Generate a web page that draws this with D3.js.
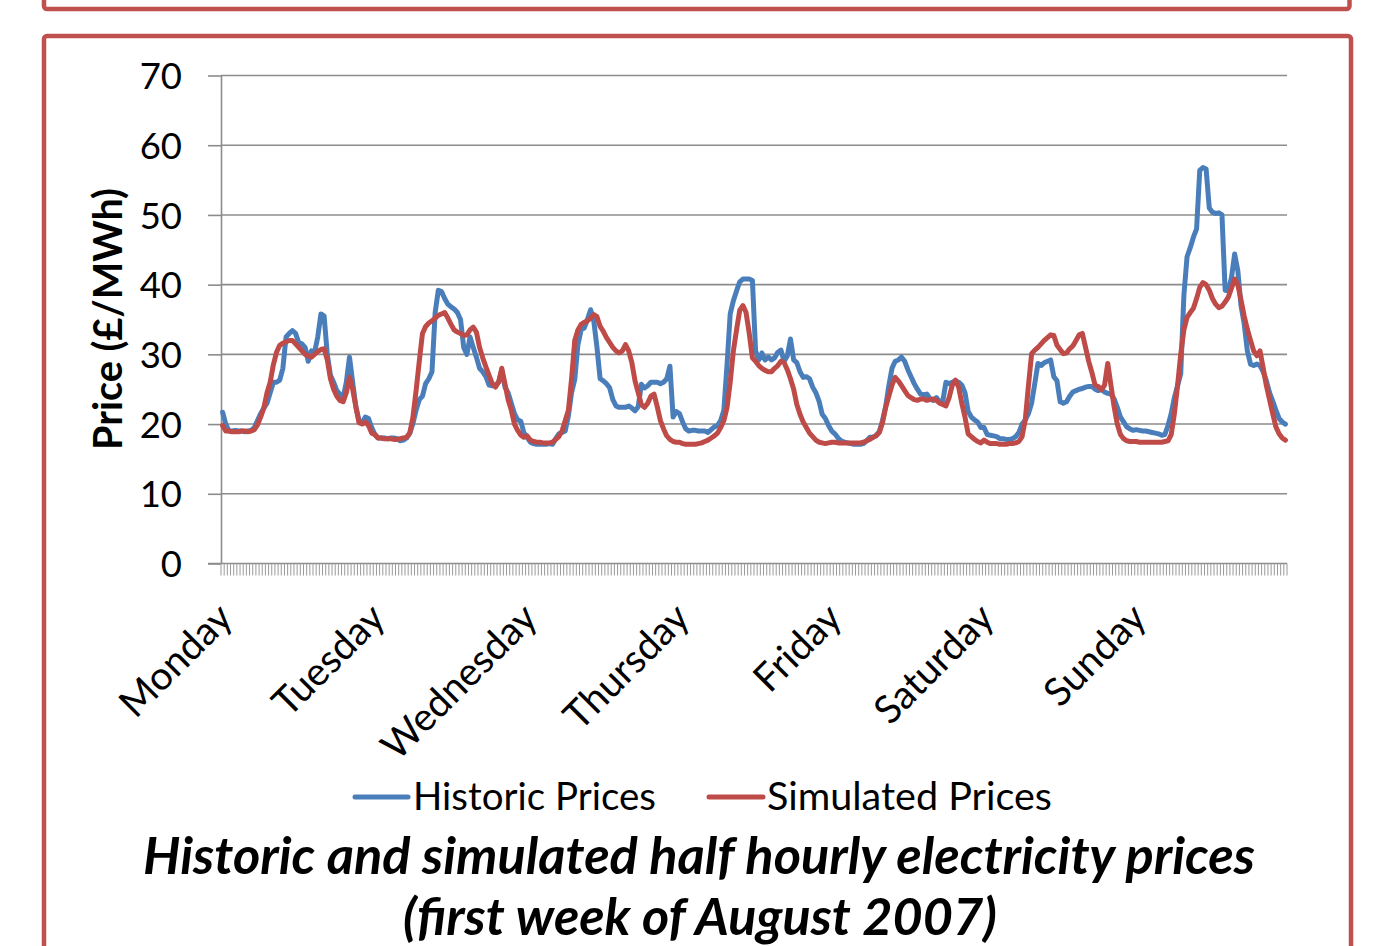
<!DOCTYPE html>
<html><head><meta charset="utf-8">
<script src="https://cdn.jsdelivr.net/npm/d3@7"></script>
<style>body{margin:0;background:#fff;overflow:hidden} svg{display:block}</style>
</head><body>
<svg id="chart" width="1388" height="946"></svg>
<script>
// ---------- data ----------
const days = ["Monday","Tuesday","Wednesday","Thursday","Friday","Saturday","Sunday"];
const yTicks = [0,10,20,30,40,50,60,70];
const seriesNames = ["Historic Prices","Simulated Prices"];
const titleLines = ["Historic and simulated half hourly electricity prices","(first week of August 2007)"];
const yTitle = "Price (£/MWh)";

// half-hourly values (48 per day), £/MWh
const historicMon = [21.7,20.0,19.0,19.0,19.1,19.0,19.0,18.9,19.0,19.1,19.5,20.5,21.5,22.3,23.0,24.5,26.0,26.0,26.3,28.0,32.5,33.0,33.4,33.0,31.7,31.5,31.0,29.0,30.5,30.3,32.5,35.8,35.5,30.0,27.0,26.0,24.8,24.3,23.8,26.0,29.6,26.0,22.5,20.5,20.2,21.0,20.8,19.5];
const historicTue = [18.5,18.0,18.0,18.0,17.9,18.0,18.0,17.9,17.6,17.7,18.0,18.7,20.1,22.0,23.5,24.0,25.8,26.5,27.5,36.0,39.2,39.0,38.0,37.2,36.8,36.5,36.0,35.0,31.0,30.0,32.5,31.0,29.6,28.0,27.5,26.8,25.6,25.5,25.6,26.0,27.7,25.3,24.5,23.0,21.5,20.6,20.4,18.7];
const historicWed = [18.1,17.4,17.2,17.1,17.1,17.1,17.1,17.2,17.1,17.9,18.6,18.8,19.0,21.2,24.5,26.4,31.4,33.5,33.8,35.0,36.4,34.8,31.0,26.5,26.2,25.8,25.2,23.5,22.6,22.4,22.4,22.4,22.6,22.3,21.9,22.5,25.7,25.2,25.5,26.0,26.0,26.0,25.8,26.0,26.5,28.3,21.0,21.8];
const historicThu = [21.5,20.3,19.3,19.0,19.1,19.1,19.0,19.0,19.0,18.8,19.2,19.6,19.8,20.5,22.0,28.5,35.8,37.7,39.1,40.4,40.8,40.8,40.8,40.6,30.5,29.2,30.2,29.2,29.6,29.2,29.5,30.3,30.6,29.0,29.8,32.2,29.2,28.8,27.5,26.7,26.8,26.5,25.3,24.5,23.3,21.4,20.8,19.8];
const historicFri = [19.0,18.6,18.0,17.6,17.4,17.3,17.2,17.1,17.1,17.1,17.2,17.6,18.1,18.1,18.4,18.9,20.5,22.5,25.5,28.0,29.0,29.2,29.6,29.0,27.8,26.8,25.8,25.0,24.3,24.2,24.3,23.6,23.4,23.8,23.2,23.3,26.0,25.8,26.0,26.2,26.0,25.6,24.5,21.8,21.0,20.6,20.3,19.5];
const historicSat = [19.5,18.5,18.4,18.3,18.2,17.9,17.9,17.8,17.8,17.9,18.2,18.8,20.0,20.6,21.5,23.0,25.8,28.7,28.4,28.8,29.0,29.2,26.8,26.2,23.2,23.0,23.2,24.0,24.6,24.8,25.0,25.1,25.3,25.4,25.4,25.0,24.8,25.0,24.6,24.4,24.3,23.6,22.4,21.0,20.3,19.6,19.3,19.1];
const historicSun = [19.2,19.1,19.0,19.0,18.9,18.8,18.7,18.6,18.4,18.5,19.8,21.5,23.8,25.5,27.2,38.5,44.0,45.3,46.8,48.0,56.4,56.8,56.6,51.0,50.4,50.2,50.3,50.0,39.2,39.1,41.0,44.4,42.0,37.0,34.4,30.5,28.6,28.4,28.6,28.4,27.5,26.2,24.5,23.3,22.0,20.8,20.3,20.0];

const simulatedMon = [19.8,19.0,19.0,18.9,18.9,18.9,19.0,19.0,18.9,19.0,19.2,19.9,21.0,22.3,24.5,26.0,28.5,30.3,31.3,31.6,31.8,32.0,32.0,31.5,31.0,30.5,30.0,29.8,29.6,30.0,30.4,30.7,30.8,29.2,26.5,25.0,24.0,23.4,23.2,24.5,26.7,25.0,22.5,20.2,20.0,20.3,19.8,18.7];
const simulatedTue = [18.5,18.0,18.0,17.9,17.9,17.9,17.8,17.8,17.9,18.0,18.1,18.7,21.0,24.8,29.0,33.0,34.0,34.5,34.8,35.2,35.6,35.8,36.0,35.2,34.3,33.5,33.2,33.0,32.7,32.8,33.5,33.9,33.2,31.0,29.5,28.2,27.0,25.8,25.3,26.0,28.0,25.8,23.5,22.0,20.0,19.1,18.4,18.1];
const simulatedWed = [18.3,17.7,17.5,17.4,17.4,17.3,17.3,17.3,17.4,17.8,18.2,19.0,20.5,22.0,26.5,32.0,33.5,34.3,34.6,34.8,35.2,35.7,35.4,34.0,33.3,32.4,31.7,31.0,30.5,30.2,30.5,31.4,30.5,28.8,26.2,24.5,22.8,22.4,23.0,24.0,24.3,22.5,20.5,19.3,18.3,17.8,17.5,17.4];
const simulatedThu = [17.4,17.2,17.1,17.1,17.1,17.1,17.2,17.3,17.5,17.7,18.0,18.3,18.7,19.5,20.5,22.4,26.0,30.5,33.5,36.3,37.0,36.0,33.0,29.5,29.0,28.4,28.0,27.7,27.5,27.5,28.0,28.4,29.0,28.8,27.8,26.5,25.0,22.8,21.4,20.3,19.5,18.7,18.2,17.7,17.4,17.3,17.2,17.3];
const simulatedFri = [17.4,17.4,17.3,17.3,17.3,17.3,17.3,17.3,17.3,17.3,17.4,17.6,17.8,18.1,18.3,18.8,20.2,22.4,24.0,25.6,26.7,26.2,25.5,24.8,24.1,23.8,23.5,23.4,23.6,23.6,23.4,23.5,23.6,23.4,23.0,22.8,22.6,23.8,25.6,26.3,25.3,23.0,21.0,18.6,18.2,17.8,17.5,17.3];
const simulatedSat = [17.7,17.4,17.2,17.2,17.2,17.1,17.1,17.1,17.2,17.2,17.3,17.5,18.2,20.6,25.5,30.1,30.6,31.0,31.5,32.0,32.4,32.8,32.7,31.3,30.7,30.1,30.2,30.8,31.2,32.0,32.8,33.0,31.0,29.0,27.4,25.6,25.4,24.9,25.6,28.7,25.6,22.5,20.0,18.5,17.9,17.6,17.5,17.5];
const simulatedSun = [17.5,17.4,17.4,17.4,17.4,17.4,17.4,17.4,17.4,17.5,17.6,18.5,21.5,25.5,30.0,33.5,35.3,36.0,36.6,38.0,39.6,40.3,40.0,39.2,38.0,37.2,36.7,36.9,37.5,38.2,39.5,40.8,40.0,37.8,35.5,33.6,32.0,30.5,29.8,30.5,28.0,25.5,23.5,21.5,19.6,18.6,18.0,17.7];

const historic = [].concat(historicMon,historicTue,historicWed,historicThu,historicFri,historicSat,historicSun);
const simulated = [].concat(simulatedMon,simulatedTue,simulatedWed,simulatedThu,simulatedFri,simulatedSat,simulatedSun);
const perDay = historicMon.length;

// ---------- drawing ----------
const FONT = "Lato, 'Open Sans', 'DejaVu Sans', sans-serif";
const BLUE = "#4a7ebb", RED = "#be4b48", GRID = "#8c8c8c", FRAME = "#c0504d";
const svg = d3.select("#chart").attr("font-family", FONT);

function fit(sel, target){
  const w = sel.node().getComputedTextLength();
  const fs = parseFloat(sel.attr("font-size"));
  sel.attr("font-size", (fs*target/w).toFixed(2));
}

// frames
svg.append("rect").attr("x",44).attr("y",-60).attr("width",1305.5).attr("height",69)
  .attr("rx",3).attr("fill","none").attr("stroke",FRAME).attr("stroke-width",4.5);
svg.append("rect").attr("x",44).attr("y",36).attr("width",1307).attr("height",1000)
  .attr("rx",3).attr("fill","none").attr("stroke",FRAME).attr("stroke-width",4.5);

const plotL = 221, plotR = 1287, plotT = 75.5, plotB = 563.5;
const x = d3.scaleBand().domain(d3.range(historic.length)).range([plotL, plotR]).padding(0);
const bw = x.bandwidth();
const y = d3.scaleLinear().domain([0, 70]).range([plotB, plotT]);

// gridlines
svg.append("g").selectAll("line").data(yTicks.filter(v => v > 0)).join("line")
  .attr("x1", plotL).attr("x2", plotR).attr("y1", d => y(d)).attr("y2", d => y(d))
  .attr("stroke", GRID).attr("stroke-width", 1.6);

// y axis
const yAxis = svg.append("g").attr("transform", `translate(${plotL},0)`)
  .call(d3.axisLeft(y).tickValues(yTicks).tickSize(13).tickSizeOuter(0).tickPadding(26).tickFormat(d3.format("d")));
yAxis.select(".domain").attr("stroke", GRID).attr("stroke-width", 1.6);
yAxis.selectAll(".tick line").attr("stroke", GRID).attr("stroke-width", 1.6);
yAxis.selectAll(".tick text").attr("font-size", 36.5).attr("font-family", FONT).attr("fill", "#000").attr("dy", "0.36em");

// x axis line
svg.append("line").attr("x1", plotL - 13).attr("x2", plotR).attr("y1", plotB).attr("y2", plotB)
  .attr("stroke", GRID).attr("stroke-width", 1.6);
// x tick marks between categories
svg.append("g").selectAll("line").data(d3.range(historic.length + 1)).join("line")
  .attr("x1", i => i < historic.length ? x(i) : plotR)
  .attr("x2", i => i < historic.length ? x(i) : plotR)
  .attr("y1", plotB).attr("y2", plotB + 12)
  .attr("stroke", "#9a9a9a").attr("stroke-width", 1);

// day labels
const xAxis = svg.append("g").attr("transform", `translate(0,${plotB})`)
  .call(d3.axisBottom(x).tickValues(d3.range(0, historic.length, perDay))
    .tickFormat(i => days[i / perDay]).tickSize(0));
xAxis.select(".domain").remove();
xAxis.selectAll(".tick text")
  .attr("font-size", 39).attr("font-family", FONT).attr("fill", "#000")
  .attr("text-anchor", "end").attr("x", 0).attr("y", 0).attr("dy", "0.35em")
  .attr("transform", `translate(${bw/2 + 1},47) rotate(-45)`);

// lines
const line = d3.line().x((d, i) => x(i) + bw / 2).y(d => y(d));
[[historic, BLUE], [simulated, RED]].forEach(([data, col]) => {
  svg.append("path").datum(data).attr("d", line).attr("fill", "none")
    .attr("stroke", col).attr("stroke-width", 5)
    .attr("stroke-linejoin", "round").attr("stroke-linecap", "round");
});

// y title
const yt = svg.append("text").text(yTitle)
  .attr("transform", "translate(122,319) rotate(-90)")
  .attr("text-anchor", "middle").attr("font-weight", "bold").attr("font-size", 38);
fit(yt, 262);

// legend
const legend = [
  {name: seriesNames[0], col: BLUE, x1: 355, x2: 408, tx: 413, w: 243},
  {name: seriesNames[1], col: RED, x1: 709, x2: 763, tx: 767, w: 285}
];
legend.forEach(l => {
  svg.append("line").attr("x1", l.x1).attr("x2", l.x2).attr("y1", 797).attr("y2", 797)
    .attr("stroke", l.col).attr("stroke-width", 5).attr("stroke-linecap", "round");
  const t = svg.append("text").text(l.name).attr("x", l.tx).attr("y", 810)
    .attr("font-size", 34).attr("fill", "#000");
  fit(t, l.w);
});

// caption title
const t1 = svg.append("text").text(titleLines[0]).attr("x", 699).attr("y", 874)
  .attr("text-anchor", "middle").attr("font-weight", "bold").attr("font-style", "italic").attr("font-size", 44);
fit(t1, 1112);
const t2 = svg.append("text").text(titleLines[1]).attr("x", 700).attr("y", 935)
  .attr("text-anchor", "middle").attr("font-weight", "bold").attr("font-style", "italic").attr("font-size", 44);
fit(t2, 594);
</script>
</body></html>
